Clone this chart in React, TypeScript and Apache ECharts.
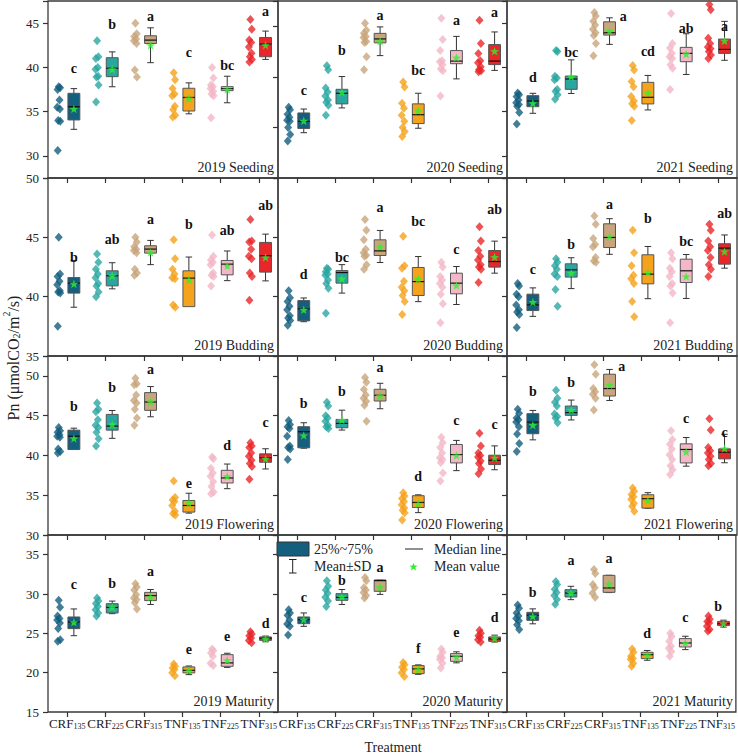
import React, { useEffect, useRef } from 'react';
import * as echarts from 'echarts';

const CATEGORIES = ['CRF135', 'CRF225', 'CRF315', 'TNF135', 'TNF225', 'TNF315'];
const COLORS = ['#145e7e', '#2aa6a1', '#c8a57c', '#f5a31c', '#f4b7c7', '#e8272b'];
const YEARS = ['2019', '2020', '2021'];
const STAGES = ['Seeding', 'Budding', 'Flowering', 'Maturity'];

// y ranges per row (Seeding has per-column ranges)
const Y_RANGE_SEEDING = [[27.5, 47.5], [30, 47.5], [27.5, 47.5]];
const Y_RANGE_BUDDING = [35, 50];
const Y_RANGE_FLOWERING = [30, 52.5];
const Y_RANGE_MATURITY = [15, 37.5];

// ---------- Seeding ----------
const P_2019_SEEDING = [
  [37.8, 37.7, 37.5, 36.3, 35.5, 35.3, 34.0, 33.9, 30.6],
  [43.0, 41.2, 41.0, 40.0, 39.8, 39.0, 38.9, 38.0, 36.1],
  [45.0, 43.8, 43.5, 43.2, 43.0, 42.7, 39.7, 38.9],
  [39.4, 38.6, 37.6, 37.0, 36.8, 35.6, 35.2, 34.6, 34.4],
  [40.0, 38.8, 38.0, 37.8, 37.6, 37.3, 37.0, 36.8, 34.3],
  [45.4, 44.3, 43.1, 42.8, 42.3, 41.6, 41.2, 40.9, 40.6],
];
// [q1, median, q3, mean, sd]
const S_2019_SEEDING = [
  [34.06, 35.56, 37.07, 35.3, 2.3],
  [38.95, 39.9, 41.09, 39.78, 1.97],
  [42.7, 43.08, 43.57, 42.5, 1.97],
  [35.07, 36.6, 37.64, 36.5, 1.75],
  [37.37, 37.6, 37.82, 37.5, 1.5],
  [41.2, 42.63, 43.38, 42.5, 1.6],
];
const L_2019_SEEDING = ['c', 'b', 'a', 'c', 'bc', 'a'];
const LY_2019_SEEDING = [39.9, 44.8, 45.7, 41.7, 40.26, 46.35];

const P_2020_SEEDING = [
  [37.0, 36.75, 36.3, 36.0, 35.7, 35.6, 35.0, 34.3, 33.65],
  [41.1, 40.7, 38.9, 38.5, 38.1, 37.7, 37.5, 37.2, 36.2],
  [45.3, 44.6, 44.3, 44.0, 43.9, 43.5, 43.4, 42.0, 40.7],
  [39.5, 39.0, 37.4, 36.9, 36.2, 35.6, 35.0, 34.6, 34.1],
  [45.8, 43.7, 42.6, 41.6, 41.5, 41.2, 40.8, 40.6, 38.1],
  [45.6, 43.3, 42.3, 41.6, 41.4, 41.0, 40.7, 40.6, 40.5],
];
const S_2020_SEEDING = [
  [34.9, 35.6, 36.43, 35.65, 1.17],
  [37.33, 38.38, 38.77, 38.48, 1.55],
  [43.36, 43.75, 44.3, 43.52, 1.42],
  [35.38, 36.26, 37.33, 36.65, 1.73],
  [41.3, 41.56, 42.6, 41.9, 2.1],
  [41.21, 41.56, 43.19, 42.54, 1.9],
];
const L_2020_SEEDING = ['c', 'b', 'a', 'bc', 'a', 'a'];
const LY_2020_SEEDING = [38.7, 42.6, 46.1, 40.6, 45.6, 46.35];

const P_2021_SEEDING = [
  [37.1, 36.9, 36.7, 36.3, 36.0, 35.8, 35.6, 34.9, 33.6],
  [41.9, 41.8, 39.0, 38.8, 38.6, 37.5, 37.3, 36.9, 36.4],
  [46.2, 45.8, 45.2, 44.8, 44.3, 43.9, 43.6, 42.7, 41.3],
  [40.2, 39.7, 38.4, 37.8, 36.7, 36.2, 35.9, 35.6, 34.0],
  [46.1, 42.7, 42.2, 41.6, 41.2, 41.0, 40.3, 39.9, 37.5],
  [47.1, 46.5, 43.3, 42.7, 42.3, 42.1, 41.8, 41.4, 41.0],
];
const S_2021_SEEDING = [
  [35.56, 36.2, 36.8, 35.94, 1.13],
  [37.52, 38.68, 39.02, 38.95, 1.9],
  [43.65, 43.91, 45.15, 44.1, 1.5],
  [35.87, 36.62, 38.31, 37.14, 1.95],
  [40.64, 41.58, 42.26, 41.5, 2.3],
  [41.58, 42.03, 43.2, 43.0, 2.2],
];
const L_2021_SEEDING = ['d', 'bc', 'a', 'cd', 'ab', 'a'];
const LY_2021_SEEDING = [38.83, 41.7, 45.71, 41.76, 44.4, 44.66];

// ---------- Budding ----------
const P_2019_BUDDING = [
  [45.0, 41.9, 41.7, 41.3, 41.0, 40.5, 40.4, 40.3, 37.5],
  [43.6, 42.9, 42.3, 41.9, 41.6, 41.1, 40.9, 40.4, 40.0],
  [45.0, 44.6, 44.2, 44.0, 43.9, 43.7, 42.3, 42.0, 41.8],
  [44.8, 43.2, 42.3, 41.9, 41.6, 41.5, 39.3, 39.1],
  [45.2, 43.4, 43.1, 42.9, 42.7, 42.0, 41.8, 41.7, 40.9],
  [46.5, 44.7, 44.6, 44.0, 43.4, 43.2, 42.0, 41.7, 39.7],
];
const S_2019_BUDDING = [
  [40.3, 41.14, 41.61, 41.08, 1.97],
  [40.91, 41.76, 42.18, 41.76, 1.1],
  [43.67, 44.01, 44.29, 43.72, 1.02],
  [39.16, 41.56, 42.18, 41.42, 1.92],
  [41.84, 42.74, 43.05, 42.6, 1.25],
  [42.07, 43.44, 44.57, 43.3, 1.97],
];
const L_2019_BUDDING = ['b', 'ab', 'a', 'b', 'ab', 'ab'];
const LY_2019_BUDDING = [43.33, 44.79, 46.54, 46.06, 45.55, 47.66];

const P_2020_BUDDING = [
  [40.5, 39.9, 39.6, 39.2, 38.9, 38.4, 38.2, 38.0, 37.6],
  [42.4, 42.3, 42.1, 41.9, 41.8, 41.4, 41.1, 40.7, 38.6],
  [46.5, 45.6, 44.8, 44.0, 43.7, 43.5, 43.4, 42.7, 42.3],
  [45.1, 42.6, 42.4, 41.3, 40.8, 40.5, 40.1, 39.6, 38.5],
  [42.9, 42.5, 41.7, 41.4, 41.1, 40.8, 40.2, 39.4, 37.8],
  [45.9, 44.7, 43.9, 43.4, 43.1, 42.7, 42.5, 42.3, 41.2],
];
const S_2020_BUDDING = [
  [37.96, 38.97, 39.67, 38.89, 1.0],
  [41.14, 42.03, 42.2, 41.5, 1.2],
  [43.47, 43.86, 44.79, 44.23, 1.35],
  [40.1, 41.27, 42.46, 41.48, 1.9],
  [40.24, 41.14, 41.98, 40.94, 1.6],
  [42.49, 42.96, 43.89, 43.33, 1.35],
];
const L_2020_BUDDING = ['d', 'bc', 'a', 'bc', 'c', 'ab'];
const LY_2020_BUDDING = [41.9, 43.33, 47.55, 46.34, 43.95, 47.32];

const P_2021_BUDDING = [
  [41.1, 40.9, 40.2, 40.0, 39.3, 38.9, 38.7, 38.5, 37.4],
  [43.2, 42.9, 42.6, 42.3, 41.9, 41.7, 40.6, 39.2],
  [46.8, 46.1, 44.9, 44.4, 44.2, 43.3, 43.0, 42.9],
  [45.6, 43.7, 42.6, 41.8, 41.5, 41.1, 39.6, 38.3],
  [43.7, 43.2, 42.4, 42.1, 41.7, 41.1, 40.9, 40.3, 37.8],
  [46.1, 45.6, 44.7, 44.2, 43.9, 43.3, 42.7, 42.3, 41.7],
];
const S_2021_BUDDING = [
  [38.83, 39.31, 40.21, 39.54, 1.2],
  [41.65, 42.26, 42.77, 41.98, 1.3],
  [44.14, 44.99, 46.14, 45.07, 1.5],
  [41.08, 41.9, 43.53, 42.03, 2.2],
  [41.19, 42.18, 43.16, 41.7, 1.85],
  [42.74, 44.09, 44.46, 43.8, 1.4],
];
const L_2021_BUDDING = ['c', 'b', 'a', 'b', 'bc', 'ab'];
const LY_2021_BUDDING = [42.26, 44.37, 47.8, 46.57, 44.65, 46.99];

// ---------- Flowering ----------
const P_2019_FLOWERING = [
  [43.5, 43.1, 42.9, 42.6, 42.4, 42.3, 40.8, 40.5, 40.3],
  [46.6, 45.8, 45.5, 44.5, 43.8, 43.5, 42.9, 42.1, 41.2],
  [49.7, 49.0, 48.9, 47.6, 46.9, 46.6, 45.8, 44.7, 43.8],
  [36.8, 34.7, 34.4, 34.2, 33.7, 33.0, 32.7, 32.5],
  [39.8, 39.6, 38.4, 37.8, 37.4, 36.7, 36.1, 35.4, 35.2],
  [41.6, 41.2, 41.0, 40.3, 39.9, 39.4, 39.0, 38.6, 37.0],
];
const S_2019_FLOWERING = [
  [40.74, 42.42, 43.18, 42.13, 1.3],
  [43.18, 43.69, 45.16, 43.9, 1.75],
  [45.67, 46.72, 47.9, 46.76, 1.9],
  [32.88, 33.71, 34.34, 34.0, 1.25],
  [36.54, 37.17, 38.13, 37.37, 1.55],
  [39.14, 39.7, 40.2, 39.57, 1.27],
];
const L_2019_FLOWERING = ['b', 'b', 'a', 'e', 'd', 'c'];
const LY_2019_FLOWERING = [46.09, 48.53, 50.85, 36.45, 41.25, 44.11];

const P_2020_FLOWERING = [
  [44.4, 43.9, 43.6, 43.4, 42.4, 41.2, 41.0, 40.8, 39.5],
  [46.7, 46.2, 45.0, 44.7, 44.3, 43.8, 43.6, 43.4],
  [49.8, 49.2, 48.3, 47.6, 47.2, 46.8, 46.3, 44.3],
  [35.3, 34.9, 34.6, 34.2, 33.8, 33.4, 33.1, 32.8, 31.9],
  [42.3, 41.6, 41.0, 40.3, 39.7, 39.5, 39.1, 37.8, 36.8],
  [42.8, 41.2, 40.3, 40.0, 39.8, 39.3, 39.0, 38.3, 37.7],
];
const S_2020_FLOWERING = [
  [40.96, 42.98, 43.61, 42.51, 1.6],
  [43.48, 44.03, 44.53, 44.44, 1.25],
  [46.84, 47.56, 48.32, 47.47, 1.6],
  [33.46, 34.09, 34.94, 33.93, 1.12],
  [39.06, 40.11, 41.38, 39.99, 1.9],
  [38.85, 39.39, 40.03, 39.7, 1.5],
];
const L_2020_FLOWERING = ['b', 'b', 'a', 'd', 'c', 'c'];
const LY_2020_FLOWERING = [46.55, 48.03, 51.06, 37.3, 44.41, 43.9];

const P_2021_FLOWERING = [
  [45.8, 45.3, 44.7, 44.5, 44.2, 43.6, 42.7, 41.5, 40.5],
  [48.2, 47.2, 46.7, 46.2, 45.2, 44.9, 44.7, 44.1],
  [51.4, 50.2, 48.4, 48.0, 47.7, 47.2, 45.7],
  [35.9, 35.5, 35.1, 34.8, 34.5, 34.0, 33.6, 33.0],
  [43.1, 42.0, 41.4, 40.8, 40.1, 39.5, 38.7, 38.2, 37.6],
  [44.6, 43.2, 41.0, 40.6, 40.3, 39.9, 39.5, 39.0, 38.7],
];
const S_2021_FLOWERING = [
  [42.73, 44.19, 45.25, 43.81, 1.85],
  [45.04, 45.38, 46.21, 45.71, 1.25],
  [47.47, 48.41, 50.21, 48.86, 1.95],
  [33.38, 34.56, 35.06, 34.34, 0.98],
  [39.06, 40.75, 41.46, 40.45, 1.8],
  [39.57, 40.4, 40.83, 40.87, 1.79],
];
const L_2021_FLOWERING = ['b', 'b', 'a', '', 'c', 'c'];
const LY_2021_FLOWERING = [47.98, 49.16, 51.14, 40, 44.66, 42.85];

// ---------- Maturity ----------
const P_2019_MATURITY = [
  [29.2, 28.3, 27.2, 26.9, 26.7, 26.3, 25.6, 24.2, 24.0],
  [29.5, 29.1, 28.8, 28.4, 28.0, 27.6, 27.2],
  [31.3, 30.9, 30.5, 29.9, 29.5, 29.3, 28.9, 28.1],
  [21.1, 20.8, 20.6, 20.4, 20.0, 19.6],
  [23.0, 22.8, 22.5, 22.1, 21.2, 20.9],
  [25.2, 24.9, 24.7, 24.4, 24.1, 23.8],
];
const S_2019_MATURITY = [
  [25.6, 26.45, 27.08, 26.4, 1.7],
  [27.59, 28.3, 28.77, 28.3, 0.8],
  [29.16, 29.79, 30.21, 29.62, 0.95],
  [19.97, 20.3, 20.73, 20.3, 0.55],
  [20.81, 21.24, 22.29, 21.57, 0.9],
  [24.11, 24.37, 24.54, 24.29, 0.36],
];
const L_2019_MATURITY = ['c', 'b', 'a', 'e', 'e', 'd'];
const LY_2019_MATURITY = [31.19, 31.32, 32.88, 22.93, 24.62, 26.19];

const P_2020_MATURITY = [
  [28.0, 27.6, 27.3, 26.7, 26.2, 25.9, 24.8],
  [31.7, 31.0, 30.5, 30.1, 29.6, 29.1, 28.4],
  [32.1, 31.7, 30.8, 30.5, 30.2, 29.8, 29.5],
  [21.3, 21.0, 20.7, 20.4, 20.0, 19.5],
  [23.0, 22.6, 22.1, 21.9, 21.7, 21.2, 20.6],
  [25.4, 25.0, 24.7, 24.5, 24.2, 23.9],
];
const S_2020_MATURITY = [
  [26.23, 26.74, 27.08, 26.74, 0.85],
  [29.19, 29.57, 30.04, 29.62, 0.95],
  [30.34, 31.7, 31.78, 30.85, 0.9],
  [19.88, 20.48, 20.9, 20.39, 0.6],
  [21.44, 22.08, 22.42, 21.95, 0.7],
  [23.98, 24.29, 24.54, 24.33, 0.44],
];
const L_2020_MATURITY = ['c', 'b', 'a', 'f', 'e', 'd'];
const LY_2020_MATURITY = [29.5, 31.75, 33.31, 23.02, 25.05, 26.96];

const P_2021_MATURITY = [
  [28.6, 28.2, 27.6, 27.2, 26.9, 26.6, 26.1, 25.5],
  [31.6, 31.2, 30.6, 30.2, 29.8, 29.3, 28.7],
  [33.1, 32.6, 31.2, 30.8, 30.1, 29.6],
  [23.0, 22.6, 22.1, 21.8, 21.7, 21.2, 20.8],
  [25.0, 24.6, 24.0, 23.4, 23.1, 22.7, 22.1],
  [27.2, 26.8, 26.5, 26.3, 25.9, 25.5, 25.3],
];
const S_2021_MATURITY = [
  [26.65, 27.29, 27.67, 27.16, 0.95],
  [29.62, 30.13, 30.55, 30.13, 0.85],
  [30.21, 30.77, 32.37, 31.28, 1.1],
  [21.79, 22.29, 22.59, 22.2, 0.62],
  [23.27, 23.78, 24.33, 23.78, 0.85],
  [25.98, 26.23, 26.52, 26.23, 0.44],
];
const L_2021_MATURITY = ['b', 'a', 'a', 'd', 'c', 'b'];
const LY_2021_MATURITY = [30.13, 34.24, 34.45, 24.96, 26.96, 28.43];

// ---------- layout & style (not data) ----------
const SERIF = "'Liberation Serif', 'Times New Roman', serif";
const COL_LEFT = [48, 278, 507];
const COL_RIGHT = [278, 507, 737];
const ROW_TOP = [1, 178, 356, 535];
const ROW_BOTTOM = [178, 356, 535, 712];
const DOT_OFF = -0.22;
const BOX_OFF = 0.175;
const JITTER = [0, 0.035, -0.03, 0.02, -0.04, 0.03, -0.015, 0.04, -0.025];
// letter horizontal nudges (band units) keyed "row-col-category"
const LETTER_NUDGE: Record<string, number> = { '0-2-2': 0.36, '2-2-2': 0.32, '3-2-5': -0.14 };
const STAR_PATH =
  'path://M0,-10L2.35,-3.24L9.51,-3.09L3.8,1.24L5.88,8.09L0,4L-5.88,8.09L-3.8,1.24L-9.51,-3.09L-2.35,-3.24Z';

const PANELS = [
  [
    [P_2019_SEEDING, S_2019_SEEDING, L_2019_SEEDING, LY_2019_SEEDING],
    [P_2020_SEEDING, S_2020_SEEDING, L_2020_SEEDING, LY_2020_SEEDING],
    [P_2021_SEEDING, S_2021_SEEDING, L_2021_SEEDING, LY_2021_SEEDING],
  ],
  [
    [P_2019_BUDDING, S_2019_BUDDING, L_2019_BUDDING, LY_2019_BUDDING],
    [P_2020_BUDDING, S_2020_BUDDING, L_2020_BUDDING, LY_2020_BUDDING],
    [P_2021_BUDDING, S_2021_BUDDING, L_2021_BUDDING, LY_2021_BUDDING],
  ],
  [
    [P_2019_FLOWERING, S_2019_FLOWERING, L_2019_FLOWERING, LY_2019_FLOWERING],
    [P_2020_FLOWERING, S_2020_FLOWERING, L_2020_FLOWERING, LY_2020_FLOWERING],
    [P_2021_FLOWERING, S_2021_FLOWERING, L_2021_FLOWERING, LY_2021_FLOWERING],
  ],
  [
    [P_2019_MATURITY, S_2019_MATURITY, L_2019_MATURITY, LY_2019_MATURITY],
    [P_2020_MATURITY, S_2020_MATURITY, L_2020_MATURITY, LY_2020_MATURITY],
    [P_2021_MATURITY, S_2021_MATURITY, L_2021_MATURITY, LY_2021_MATURITY],
  ],
];

function yRange(r: number, c: number): number[] {
  if (r === 0) return Y_RANGE_SEEDING[c];
  if (r === 1) return Y_RANGE_BUDDING;
  if (r === 2) return Y_RANGE_FLOWERING;
  return Y_RANGE_MATURITY;
}

function starPoints(cx: number, cy: number, R: number, r: number) {
  const pts: number[][] = [];
  for (let k = 0; k < 10; k++) {
    const a = -Math.PI / 2 + (k * Math.PI) / 5;
    const rad = k % 2 === 0 ? R : r;
    pts.push([cx + rad * Math.cos(a), cy + rad * Math.sin(a)]);
  }
  return pts;
}

function buildOption() {
  const grid: any[] = [];
  const xAxis: any[] = [];
  const yAxis: any[] = [];
  const series: any[] = [];
  const graphic: any[] = [];
  const tickStyle = { color: '#333', width: 1.2 };

  for (let r = 0; r < 4; r++) {
    for (let c = 0; c < 3; c++) {
      const g = r * 3 + c;
      const [pts, stats, letters, letterY] = PANELS[r][c] as any;
      grid.push({
        left: COL_LEFT[c],
        top: ROW_TOP[r],
        width: COL_RIGHT[c] - COL_LEFT[c],
        height: ROW_BOTTOM[r] - ROW_TOP[r],
        show: true,
        borderColor: '#3a3a3a',
        borderWidth: 1.3,
        backgroundColor: 'transparent',
      });
      xAxis.push({
        type: 'category',
        gridIndex: g,
        data: CATEGORIES,
        boundaryGap: true,
        axisLine: { show: false },
        axisTick: { show: true, alignWithLabel: true, inside: false, length: 5, lineStyle: tickStyle },
        axisLabel: {
          show: r === 3,
          interval: 0,
          margin: 3,
          formatter: (v: string) => `{m|${v.slice(0, 3)}}{s|${v.slice(3)}}`,
          rich: {
            m: { fontSize: 13, fontFamily: SERIF, color: '#222', lineHeight: 15, verticalAlign: 'bottom' },
            s: { fontSize: 8, fontFamily: SERIF, color: '#222', lineHeight: 7, verticalAlign: 'bottom' },
          },
        },
        splitLine: { show: false },
      });
      xAxis.push({ type: 'value', gridIndex: g, min: 0, max: 6, show: false });
      const [ymin, ymax] = yRange(r, c);
      const yA: any = {
        type: 'value',
        gridIndex: g,
        min: ymin,
        max: ymax,
        axisLine: { show: false },
        axisTick: { show: true, inside: false, length: 5, lineStyle: tickStyle },
        axisLabel: {
          show: c === 0,
          fontSize: 13,
          fontFamily: SERIF,
          color: '#222',
          margin: 9,
          formatter: (v: number) => (Math.abs(v % 5) < 1e-6 ? String(v) : ''),
        },
        splitLine: { show: false },
      };
      if (ymin % 5 === 0) yA.interval = 5;
      else yA.splitNumber = 4;
      yAxis.push(yA);

      // scatter diamonds
      const dots: any[] = [];
      pts.forEach((arr: number[], i: number) => {
        arr.forEach((v: number, j: number) => {
          dots.push({ value: [i + 0.5 + DOT_OFF + JITTER[j % JITTER.length], v], itemStyle: { color: COLORS[i] } });
        });
      });
      series.push({
        type: 'scatter',
        xAxisIndex: g * 2 + 1,
        yAxisIndex: g,
        symbol: 'diamond',
        symbolSize: [8, 9],
        data: dots,
        z: 2,
        silent: true,
      });

      // boxes
      series.push({
        type: 'custom',
        xAxisIndex: g * 2 + 1,
        yAxisIndex: g,
        z: 3,
        silent: true,
        data: stats.map((s: number[], i: number) => [i + 0.5 + BOX_OFF, s[0], s[1], s[2], s[3], s[4]]),
        renderItem: (params: any, api: any) => {
          const x = api.value(0);
          const q1 = api.value(1), med = api.value(2), q3 = api.value(3), mean = api.value(4), sd = api.value(5);
          const ci = params.dataIndex;
          const bw = api.size([0.31, 0])[0];
          const cw = api.size([0.17, 0])[0];
          const pT = api.coord([x, mean + sd]);
          const pB = api.coord([x, mean - sd]);
          const p3 = api.coord([x, q3]);
          const p1 = api.coord([x, q1]);
          const pm = api.coord([x, med]);
          const cx = pT[0];
          const ws = { stroke: '#333', lineWidth: 1 };
          return {
            type: 'group',
            children: [
              { type: 'line', shape: { x1: cx, y1: pT[1], x2: cx, y2: pB[1] }, style: ws },
              { type: 'line', shape: { x1: cx - cw / 2, y1: pT[1], x2: cx + cw / 2, y2: pT[1] }, style: ws },
              { type: 'line', shape: { x1: cx - cw / 2, y1: pB[1], x2: cx + cw / 2, y2: pB[1] }, style: ws },
              {
                type: 'rect',
                shape: { x: cx - bw / 2, y: p3[1], width: bw, height: p1[1] - p3[1] },
                style: { fill: COLORS[ci], stroke: '#555', lineWidth: 1 },
              },
              { type: 'line', shape: { x1: cx - bw / 2, y1: pm[1], x2: cx + bw / 2, y2: pm[1] }, style: { stroke: '#111', lineWidth: 1.2 } },
            ],
          };
        },
      });

      // mean stars
      series.push({
        type: 'scatter',
        xAxisIndex: g * 2 + 1,
        yAxisIndex: g,
        symbol: STAR_PATH,
        symbolKeepAspect: true,
        symbolSize: 9,
        itemStyle: { color: '#2ef02e' },
        data: stats.map((s: number[], i: number) => [i + 0.5 + BOX_OFF, s[3]]),
        z: 4,
        silent: true,
      });

      // letters
      series.push({
        type: 'custom',
        xAxisIndex: g * 2 + 1,
        yAxisIndex: g,
        z: 5,
        silent: true,
        data: letterY.map((v: number, i: number) => [i + 0.5 + BOX_OFF + (LETTER_NUDGE[`${r}-${c}-${i}`] || 0), v]),
        renderItem: (params: any, api: any) => {
          const p = api.coord([api.value(0), api.value(1)]);
          return {
            type: 'text',
            x: p[0],
            y: p[1],
            style: {
              text: letters[params.dataIndex],
              fill: '#111',
              font: `bold 14px ${SERIF}`,
              align: 'center',
              verticalAlign: 'middle',
              textAlign: 'center',
              textVerticalAlign: 'middle',
            },
          };
        },
      });

      graphic.push({
        type: 'text',
        x: COL_RIGHT[c] - 4,
        y: ROW_BOTTOM[r] - 11,
        style: {
          text: `${YEARS[c]} ${STAGES[r]}`,
          fill: '#222',
          font: `14px ${SERIF}`,
          textAlign: 'right',
          textVerticalAlign: 'middle',
          align: 'right',
          verticalAlign: 'middle',
        },
        z: 10,
      });
    }
  }

  // y title
  graphic.push({
    type: 'text',
    x: 11,
    y: 358,
    rotation: Math.PI / 2,
    style: {
      text: '{a|Pn (μmolCO}{b|2}{a|/m}{c|2}{a|/s)}',
      rich: {
        a: { fontSize: 16, fontFamily: SERIF, fill: '#222', lineHeight: 20, verticalAlign: 'bottom' },
        b: { fontSize: 10, fontFamily: SERIF, fill: '#222', lineHeight: 10, verticalAlign: 'bottom' },
        c: { fontSize: 10, fontFamily: SERIF, fill: '#222', lineHeight: 10, verticalAlign: 'top' },
      },
      textAlign: 'center',
      textVerticalAlign: 'middle',
      align: 'center',
      verticalAlign: 'middle',
    },
    z: 10,
  });
  // x title
  graphic.push({
    type: 'text',
    x: 393,
    y: 747,
    style: {
      text: 'Treatment',
      fill: '#222',
      font: `14px ${SERIF}`,
      textAlign: 'center',
      textVerticalAlign: 'middle',
      align: 'center',
      verticalAlign: 'middle',
    },
    z: 10,
  });

  // legend
  const lf = `14px ${SERIF}`;
  graphic.push({
    type: 'rect',
    shape: { x: 277, y: 542, width: 32, height: 14 },
    style: { fill: COLORS[0], stroke: '#333', lineWidth: 1 },
    z: 10,
  });
  graphic.push({ type: 'line', shape: { x1: 292.7, y1: 559.5, x2: 292.7, y2: 573 }, style: { stroke: '#222', lineWidth: 1 }, z: 10 });
  graphic.push({ type: 'line', shape: { x1: 289, y1: 559.5, x2: 296.5, y2: 559.5 }, style: { stroke: '#222', lineWidth: 1 }, z: 10 });
  graphic.push({ type: 'line', shape: { x1: 289, y1: 573, x2: 296.5, y2: 573 }, style: { stroke: '#222', lineWidth: 1 }, z: 10 });
  graphic.push({ type: 'line', shape: { x1: 405, y1: 549, x2: 423, y2: 549 }, style: { stroke: '#222', lineWidth: 1 }, z: 10 });
  graphic.push({
    type: 'polygon',
    shape: { points: starPoints(413.5, 567, 4.2, 1.8) },
    style: { fill: '#2ef02e' },
    z: 10,
  });
  const legendTexts = [
    ['25%~75%', 314, 549],
    ['Mean±SD', 314, 566],
    ['Median line', 434, 549],
    ['Mean value', 434, 566],
  ];
  legendTexts.forEach(([t, x, y]) => {
    graphic.push({
      type: 'text',
      x,
      y,
      style: { text: t, fill: '#222', font: lf, textAlign: 'left', textVerticalAlign: 'middle', align: 'left', verticalAlign: 'middle' },
      z: 10,
    });
  });

  return {
    animation: false,
    backgroundColor: '#ffffff',
    grid,
    xAxis,
    yAxis,
    series,
    graphic,
  };
}

export default function App() {
  const ref = useRef<HTMLDivElement>(null);
  useEffect(() => {
    if (!ref.current) return;
    const chart = echarts.init(ref.current, undefined, { renderer: 'svg' });
    chart.setOption(buildOption() as any);
    return () => chart.dispose();
  }, []);
  return <div ref={ref} style={{ position: 'absolute', left: 0, top: 0, width: 738, height: 755 }} />;
}
